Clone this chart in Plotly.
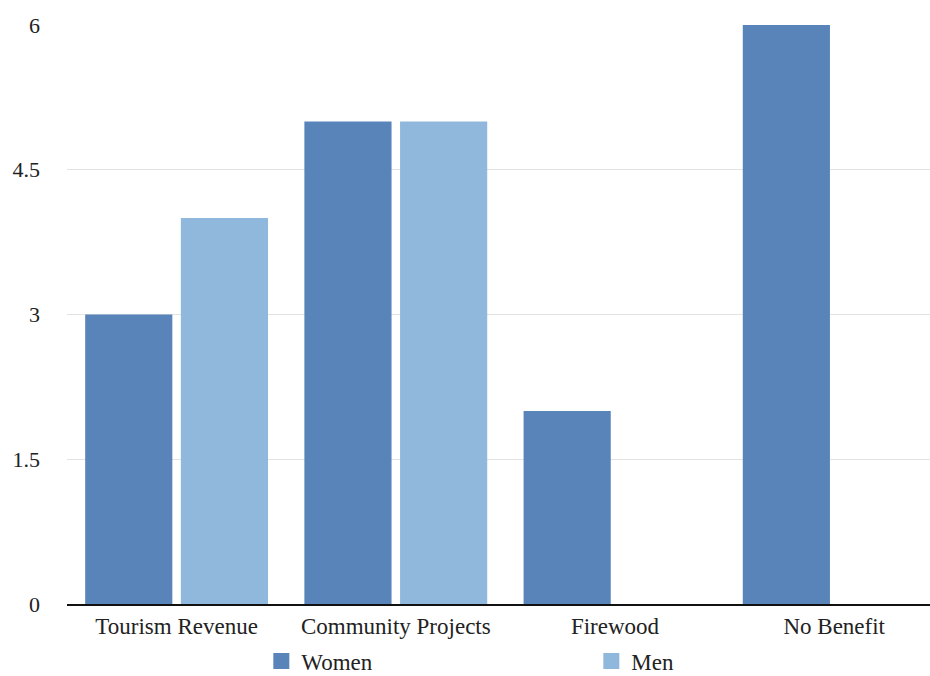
import plotly.graph_objects as go

categories = ["Tourism Revenue", "Community Projects", "Firewood", "No Benefit"]
women = [3, 5, 2, 6]
men = [4, 5, None, None]
y_ticks = [0, 1.5, 3, 4.5, 6]

WOMEN_COLOR = "#5884BA"
MEN_COLOR = "#8FB8DC"
FONT = "Liberation Serif, Times New Roman, serif"
TEXT_COLOR = "#222222"

fig = go.Figure()
fig.add_trace(go.Bar(x=categories, y=women, name="Women", marker_color=WOMEN_COLOR,
                     marker_line_width=0, showlegend=False))
fig.add_trace(go.Bar(x=categories, y=men, name="Men", marker_color=MEN_COLOR,
                     marker_line_width=0, showlegend=False))

# legend entries with larger square swatches
for name, color in [("Women", WOMEN_COLOR), ("Men", MEN_COLOR)]:
    fig.add_trace(go.Scatter(x=[None], y=[None], mode="markers", name=name,
                             marker=dict(symbol="square", size=16, color=color)))

fig.update_layout(
    width=930, height=676,
    margin=dict(l=67, r=0, t=25, b=72),
    paper_bgcolor="white", plot_bgcolor="white",
    font=dict(family=FONT, size=23, color=TEXT_COLOR),
    barmode="group", bargap=0.127, bargroupgap=0.089,
    showlegend=True,
    legend=dict(orientation="h", xref="container", yref="container",
                x=0.281, xanchor="left", y=0.022, yanchor="middle",
                entrywidth=285, entrywidthmode="pixels",
                font=dict(family=FONT, size=23, color=TEXT_COLOR),
                itemsizing="trace"),
)
fig.update_xaxes(range=[-0.5, 3.437], showgrid=False, showline=True,
                 linecolor="#111111", linewidth=2, ticks="", fixedrange=True,
                 tickfont=dict(size=23))
fig.update_yaxes(range=[0, 6], tickvals=y_ticks, ticktext=[f"{v:g}" for v in y_ticks],
                 showgrid=True, gridcolor="#e3e3e3", gridwidth=1, zeroline=False,
                 showline=False, ticks="", ticklabelstandoff=26,
                 tickfont=dict(size=22))

fig.write_html("out.html")
